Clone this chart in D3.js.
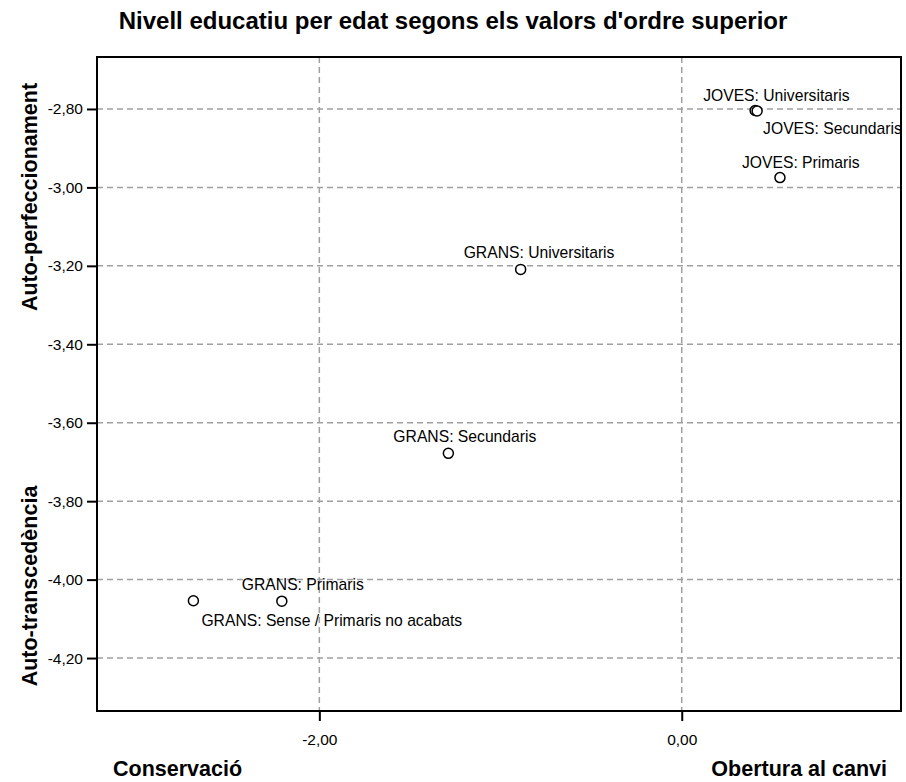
<!DOCTYPE html>
<html><head><meta charset="utf-8">
<script src="https://cdn.jsdelivr.net/npm/d3@7"></script>
<style>body{margin:0;background:#fff}</style>
</head><body>
<script>
const categories = ["JOVES: Universitaris","JOVES: Secundaris","JOVES: Primaris","GRANS: Universitaris","GRANS: Secundaris","GRANS: Primaris","GRANS: Sense / Primaris no acabats"];
const xValues = [0.405, 0.416, 0.542, -0.889, -1.288, -2.207, -2.695];
const yValues = [-2.804, -2.805, -2.975, -3.209, -3.678, -4.055, -4.054];
const xTicks = [-2, 0];
const yTicks = [-2.8, -3.0, -3.2, -3.4, -3.6, -3.8, -4.0, -4.2];
// label placement relative to point (layout, not data)
const labelOffsets = [[-52,-10],[6,23],[-38,-10],[-57,-11],[-55,-11],[-40,-11],[8,25]];

const W = 906, H = 782;
const m = {left: 97, top: 57, right: 5, bottom: 71};
const svg = d3.select("body").append("svg").attr("width", W).attr("height", H);
const font = "Liberation Sans, Arial, sans-serif";

const x = d3.scaleLinear().domain([-3.227, 1.210]).range([m.left, W - m.right]);
const y = d3.scaleLinear().domain([-2.6675, -4.335]).range([m.top, H - m.bottom]);

// grid
const g = svg.append("g");
g.selectAll("line.hg").data(yTicks).join("line")
  .attr("x1", m.left).attr("x2", W - m.right)
  .attr("y1", d => y(d)).attr("y2", d => y(d))
  .attr("stroke", "#a0a0a0").attr("stroke-width", 1.5).attr("stroke-dasharray", "6,4");
g.selectAll("line.vg").data(xTicks).join("line")
  .attr("y1", m.top).attr("y2", H - m.bottom)
  .attr("x1", d => x(d)).attr("x2", d => x(d))
  .attr("stroke", "#a0a0a0").attr("stroke-width", 1.5).attr("stroke-dasharray", "6,4");

// axes
const fmt = d => d3.format(".2f")(d).replace("−","-").replace(".", ",");
const ax = svg.append("g").attr("transform", `translate(0,${H - m.bottom})`)
  .call(d3.axisBottom(x).tickValues(xTicks).tickFormat(fmt).tickSizeInner(10).tickSizeOuter(0).tickPadding(13));
const ay = svg.append("g").attr("transform", `translate(${m.left},0)`)
  .call(d3.axisLeft(y).tickValues(yTicks).tickFormat(fmt).tickSizeInner(10).tickSizeOuter(0).tickPadding(4));
[ax, ay].forEach(a => {
  a.select(".domain").remove();
  a.selectAll(".tick line").attr("stroke", "#000").attr("stroke-width", 2);
  a.selectAll(".tick text").attr("font-family", font).attr("font-size", 15.5).attr("fill", "#000");
});

// frame
svg.append("rect").attr("x", m.left).attr("y", m.top)
  .attr("width", W - m.right - m.left).attr("height", H - m.bottom - m.top)
  .attr("fill", "none").attr("stroke", "#000").attr("stroke-width", 2);

// points
const data = categories.map((c, i) => ({c, x: xValues[i], y: yValues[i], o: labelOffsets[i]}));
svg.selectAll("circle.pt").data(data).join("circle")
  .attr("cx", d => x(d.x)).attr("cy", d => y(d.y)).attr("r", 5)
  .attr("fill", "#fff").attr("stroke", "#000").attr("stroke-width", 1.5);
svg.selectAll("text.lbl").data(data).join("text")
  .attr("x", d => x(d.x) + d.o[0]).attr("y", d => y(d.y) + d.o[1])
  .attr("font-family", font).attr("font-size", 15.7).attr("fill", "#000")
  .text(d => d.c);

// title
svg.append("text").attr("x", 453).attr("y", 29).attr("text-anchor", "middle")
  .attr("font-family", font).attr("font-weight", "bold").attr("font-size", 24)
  .text("Nivell educatiu per edat segons els valors d'ordre superior");

// axis titles
svg.append("text").attr("x", 113).attr("y", 776).attr("font-family", font)
  .attr("font-weight", "bold").attr("font-size", 21.5).text("Conservació");
svg.append("text").attr("x", 887).attr("y", 776).attr("text-anchor", "end").attr("font-family", font)
  .attr("font-weight", "bold").attr("font-size", 21.5).text("Obertura al canvi");
svg.append("text").attr("transform", "translate(37,197) rotate(-90)").attr("text-anchor", "middle")
  .attr("font-family", font).attr("font-weight", "bold").attr("font-size", 21.5).text("Auto-perfeccionament");
svg.append("text").attr("transform", "translate(37,586) rotate(-90)").attr("text-anchor", "middle")
  .attr("font-family", font).attr("font-weight", "bold").attr("font-size", 21.5).text("Auto-transcedència");
</script>
</body></html>
